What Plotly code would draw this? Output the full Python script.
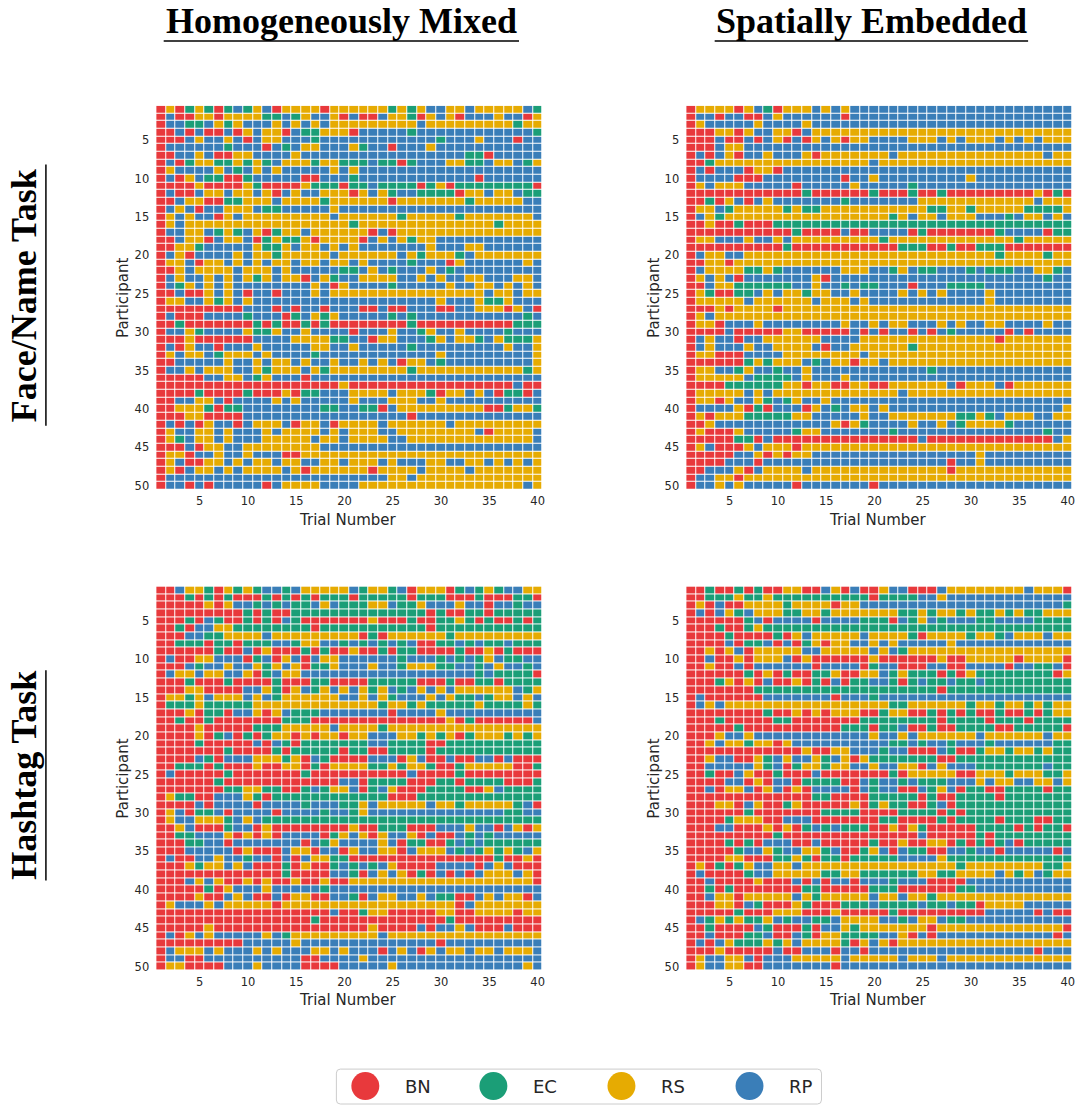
import plotly.graph_objects as go

W, H = 1083, 1109

categories = ["BN", "EC", "RS", "RP"]
cat_colors = ["#E8393C", "#1B9E77", "#E6AB02", "#3A7EB8"]
code_to_cat = {"r": "BN", "g": "EC", "y": "RS", "b": "RP"}
trials = list(range(1, 41))
participants = list(range(1, 51))
x_ticks = [5, 10, 15, 20, 25, 30, 35, 40]
y_ticks = [5, 10, 15, 20, 25, 30, 35, 40, 45, 50]
col_titles = ["Homogeneously Mixed", "Spatially Embedded"]
row_titles = ["Face/Name Task", "Hashtag Task"]

# each row: strategy per trial (r=BN, g=EC, y=RS, b=RP)
face_mixed = [
    "ryrgygrgbg ybryyyyryy yyyygygybb yybyyyyybg",
    "rbrryyryyy yggbgybbyr brrbyygryb yrbbbybbry",
    "rbbggbygyb bbybybybyy yyyyyyybyy yyyyyyygyy",
    "rrbrbrrbry byyrbggyyy rbbbbbgbbb bbbbbbbbbg",
    "rrrbybbybr byybbbgbbb bbbbbbbbbg bbbybbbrbb",
    "rbbbbbbgbb brbgbyybbb ygbbrbbbyb bbbbbbbbbb",
    "rrbbybrryy bbbbybbbbb bbbbbbbbbb bbggrbbbbb",
    "rbrgyyggyg ygbyyygyyg ggbggrgbbb yyggbyybgy",
    "rybbbbybgb ybybbbbbyb ybbbbbbbbb bbbbbbbbbb",
    "rbrybggrrg bbbbbrrbbb gbbbbbbbbb bbbrbbbbbb",
    "rrrryrrrry grrrrygggr ggbggggrgy rggggggggr",
    "rbrrbyybyy byrbybbyyy rybygbbggg gryybyybgg",
    "rrbyyrrggy yybyyyygyy yyyyryyyyy yygyyyyybb",
    "rbybrbbyyy bggbbbbbyb bbbbbbbbbb bbbbbbbbbb",
    "rybybbryby yyyyyyyyby yyyyygyyyy ygyyyyyyyb",
    "rybyyyyyyy yyyyyyyyyy gyyyyyyyyy yyyyygyyyy",
    "rbbyybgygb yrgyybyyyy yyrbryyyyy yyyyyyyyyy",
    "rrbyyrbyyb rgyggyryyy yrbybygyyb bbbbbbbbbb",
    "rryygbbbbb yggybyybyb ybbbbbbbyb bbyybbbbbb",
    "rbyrbbbbyb yygyyyyyby yyyyybygyy ygbyyyyyyy",
    "ryybryybyb ybyybyybyy bybbbbgbbb rybbbbbbyb",
    "rrybyyyyby yybybbbbbg gbybgbbbyb gbbbbbbbbb",
    "rbybbybyby gybyyrbygb byyyybbyby bbyybbbyyb",
    "rbgybybybb bbbbbbybry bbbbgbbbbb ybbyybybyb",
    "rrbrrybybr bbrbbbybyy yyyyyyyyyy yyyybyybyy",
    "ryybbygyby bbbbbbbbbb bbbbbbbbby bbbyggybbb",
    "rrrrrrrrrb bbrbrbbrbb brrbrrbbbr rbbyyyrybr",
    "rbrrrbbbbg bbbrgbygyb bbbbgbgbbb bbbbbbbbgb",
    "rrgrrrrrrr grgrrgrgrr rrrrrrgrrr rrrrrrrggg",
    "rbbygbbbby ggybbybbbb rbbbybbgyb bybbbbgbbb",
    "rrryrrrrrr bbbbyyyygg bbryybbbgy byygbygggy",
    "rbrybbrbbb ybbbbbyybb ybbbbbgbbb bbbbbbybby",
    "rybyybgyyy bybbbbgbbb bbbbbbbbby bbbbbbbbby",
    "rrbbbbbybb ybyybybbyb bybybryybg bbbbbbbbby",
    "rbbybyyybb ygyyybygyy yyyyyygyyy yyyyyyyygy",
    "rrrrrbbyyb gybbbrbbbb bbbbbbbbbb bbbbbbbbbb",
    "rrrrrrrrrr rrrrrrrrry rrrrrrrrrr rrrrrrrbrr",
    "rrrrgrrrrg rrryrggbbb yyyybyyygr yybybrggrb",
    "rrbbyybrbb bbybybbbbb ybbbyyybby bbbbbbbbbb",
    "rryyygrggb bbbbbbbggb bggrbyyyyy yyyyrrgyyg",
    "rrryyrrrrb bbbbbbbbbb bbbbbbrbbb bbbbbbbbbb",
    "rbrbrybbrb yyybryybry yyybyyyyyy byyyyyyyyy",
    "rybbyybybb bybyyyybyb yyybbyyyyy yyybryyyyb",
    "rygbyybybb byyyyybyyb yyyybbyyyy yyyyyyyyyb",
    "rrrbryybby yyyyyyybbb bbbbbbbbbb bbbbbbbbbb",
    "ryyrbbybby bbbrryyyyy yyyyyyyyyy yyyyyyyyyy",
    "rybrryybyb yybyybbyyb yyybybbbyy bbyybybyby",
    "ryrbyybyby yyybyryyyy yyryyyybyy yybyyyyyyy",
    "rbbbbbbbbb bbbbbbbbbb bbbbyybyyy yyyyyyyyyy",
    "rbbrbrbbbb brbyyyybbb byyyyyyyyy yyyyyyyyby",
]

face_spatial = [
    "ryyyyrybgr yyybybybbb bbbbbbbbbb bbbbbbbbbb",
    "rbbrbbrrby bbbbbbrbbb bbbbbbbbbb bbbbbbbbbb",
    "rybbbbbybb bbybbbbbbb bbbbbbbbbb bbbbbbbbbb",
    "rrryyrybby yrbyyyyyyy yyyyyyyyyy yyyyyyyyyy",
    "rrrbrrbrby rbrybyryyb bbbyyybyby yybybybyyy",
    "rrrbyybbbb bbbbbbbbbb bbbbbbbbbb bbbbbbbbbb",
    "rbrbyrbbyb bbyryyyyyy ybyyyyyyyy yyyyyyybyy",
    "rrgyyyyyyy yyyyyyyyyb yyyyyyyyyy yyyyyyyyyy",
    "rbrbbbryyr bbbbbbbbbb bbbbbbbbbb bbbbbbbbbb",
    "rbbbbrrrbb bbbbbbrbby bbbbbbbbby bbbbbbbbbb",
    "rybyyybbbb brbbbbbybb bbbgbbbbbb bbbbbbbbbb",
    "rrrrrrrrrr rrgrrrrrrg rrrgrrgrrr rrrrrryrgr",
    "rrgrybrbyb bbbbbbgbbb bbbbyyyyyy yyyyyybyyy",
    "ryybgyyyyy gyggyyyyyy yyyyyggyyg yyyyyggggy",
    "rbygyyyyyy yyyyyyyyyy ygybyybyyy bbbgbyybyb",
    "rryrrgrrrg gggggggggg gggggggggg gggggggggg",
    "rrrrrrrrrr rgrrrrbrrb bbbrgrrrrr rrgbbbbrgg",
    "ryybbbybby byyyyyyyyy gyyyyyyyyy yyyygyyyyy",
    "rrrrrrrrrr grrrrrrrrr rrgggrrgrr gggrrrrrrr",
    "rbyybbyyyy yyyyyyyyyy yyyyyyyyyy yygyyyygyy",
    "rryyryyyyy yyyyyyyyyy yyyyyyyyyy yyyyyyyyyy",
    "rbyyyyggyg bbbbbbyyyb bgybggbbbg bgggbbyygb",
    "rybybrbbbb bbbyrbbbbb bbbbbbbbbb bbbbbbbgbb",
    "rrbyyggggg gbbybbgbgg bbbrbbbggg gbbbbbbbbb",
    "rygrrggbyb yygyybbybb bbybybybbb bybbbbbbbb",
    "ryyyyybyyy yyybyyybyb bbbbbbbbbb bybbbbbbbb",
    "rrryryyyyr yyyyyyyyyy yyyyyyyyyy yyyyyyyyyy",
    "rybyyyyyyy yyyyyyyyyy yyyyyyyyyy yyyyyyyyyy",
    "ryyrbbbybb bbbbbbybby byybbbybyb byybbbbybb",
    "rrrrbrrrrr yyrrrrrbrb rbbrbrbgbb bbbrbrbbbb",
    "rbybbrbbyy yyyybbbbyy yyyyyyyyyy yyryyyyyyy",
    "rbybbbybby yyybrbbyyy yyygyyyyyy yyyyyyyyyy",
    "ryyrrrbbbb yyyyyyyyby yyyyyyyyyy yyyyyyyyyy",
    "rrrrrrgygy yybgbyyryy byyyyyyyyy yyyyyyyyyy",
    "ryybbgybbg bbybbbbbbb bbbbbgbbbb bbbbbbbbbb",
    "ryyyyybggg gbybbbybbb bbbbbbbbbb bbbbbbbbbb",
    "rrrrgggggg yyryyrryyr ryyyyyybry yybryyyyyy",
    "ryyyyybyby yyyyyyyyyy yybyyyyyyy yyyyyyyyyy",
    "ryyrybbygb gybbybbbbb bbbbbbbbbb bbbbbbbbbb",
    "rbbbbyrgrb bbrybgbyyb ybbbbbbbbb bbbbbbbbby",
    "ryryyygggg gyybbbbbyb byyyyyyygg ygbyyybbyy",
    "rrybbbbbbb bbbbbyrygb bbbybbybgy yyygbbbbbb",
    "ryrrrybbbb bgyybbbbbb bgbbbbbbbb bbbbbbbgbb",
    "rrrrrggrbr rrrrrrrrrr rrrrbrrrrr rrrrrrrrby",
    "rybrrrybyy yryyyyyyyy yyyyyyyyyy yyyyyyyyyy",
    "rrrrrbbyry ryybbbbbbb bbbbbbbbbb ybbbbbbbbb",
    "rrrrbbbrbb bbbbbbbbbb bbbbbbbrbb ybbbbbbbbb",
    "rrbbbyrbyy yybyyyyyyy yyyyyyyryy yyyyyyyyyy",
    "rbbyyryyyy yyyyyyyyyy yyyyyyyyyy yyyyyyyyyy",
    "rbbybybbbb brbbbbbbbr bbbbbbbbbb bbbbbbbbbb",
]

hashtag_mixed = [
    "rrbyygrygy gbbgbyyyyy bgyygbryyy rgbgygbbyy",
    "rrrgrgrgrr rgrgrgrggg rgggggrggg rrrgrrrggr",
    "rrrrryrybb gbgbggbybg ggyybggybb bybbrbbgbb",
    "rrrrrrrrrg rgrrgggggg ggggggggrg rrggrggggg",
    "rrrgrbgrrg rgrbgrrrrr rryrrrgrrg gygrgrrgrg",
    "rrgrbbyygg ggggggrggg ggggggggrg gggggggggg",
    "rrrbbggyyy ybyyyyyyyy yrgryyyyyy gyyyyyyyyy",
    "rrgggrggrg ggbbgyybbg bgbgbgbrrg gbgbggbggg",
    "rrrrrrgrrb ryrrrgrgrr yrrgrggrrr rgrryrgrrr",
    "rbrryybbbr gbrybrbyyb bbbbbgbbbg bgbgybggbb",
    "rrrbgbbybb ygybyrggyb bbybbgyyyg gbbgbybbgb",
    "rbyybyybby rgbyybbbbb bbbbbbbbbb bbbgbggggr",
    "rrrgrrrgrr rrgrrrggrr rrgggggrrr grrggrgggg",
    "rrryyrrrrb bygrybgyby bygybgbyby byyyyyybgy",
    "ryygybyyyb ybgyyyyyyb bybygbbbyb yggbgyybyb",
    "rgggyggggg yyyyyyyyyy yyygyygygg gggyggggyg",
    "rrryrggrbb yrybgggbbb bbbbrbbbby bbbbbbbbbb",
    "rrgrrgrrrr rrrgggrrrr rrrrrrrrrr yrgrrrrrrb",
    "rrrryrrrrr gggyyyyyby yyygyyyyyy yyyyyyyyyy",
    "rrrryrgbrg rgyyryryyr yybbbyygyg yrgyyygygy",
    "rrrrgrrrrr brbgrggggg ggbbggggrr gggggggggg",
    "rrrrrrrgrr rrgrgggggr ggrrggggrg gggggggggg",
    "rrrrbgrbbb yyygyrbgrr rrbbbrybrr brrbbrbrrr",
    "rrgggrgrrr yrryyrgryy yyggygyygr rgyyyyyrrg",
    "rbrrrrrgrr rrrrrgrrrr rrrrrrbrrr rgrrrrrrrr",
    "rrrrrrgrrr rrrrrrrrrb brggggrrrg grggggrrrg",
    "rrrrrrrggy yggrrgbgyy brgbyrrrgg ggrrybgggg",
    "ryggrrbbby grgggggggg ggggrrrggg gggggggggg",
    "rrrrbrbbbb rbbbbgbbbg gybyyyyyby ygyyyyygbr",
    "rybrggbrbb bbrbbbbgbb gybbbbbbbb bbbbbbggbb",
    "rybbyyygby bggggggggg gggggggggg gggggggggg",
    "rrybrrrgbb ryrrrrrrrr yrrgggrrrb bbybbrbyry",
    "rrggbbbyry ryrbbbbrgy byrybbyrbr rbgbgbbbbb",
    "rrrggbbrbb bbbbbrbgyb bbbybrggrr gbgbgggggg",
    "rrrbbbbbry rrrbyyrbbr ybbyyrbyyy bgbgygygby",
    "rbrrbbybbg bbrbrbyygg rrrrrrrrrr rrrrrgrryr",
    "rrrygyybyb rrrgryrrgb gbgbyrrrrb bbbrbybrrr",
    "rrrrrrrrrr rrrgrrrrbb grbybyrgrb rbrbyyybyr",
    "rrrbybyrry ryrryrryrr yyyyyyyyyy yyyyyyyyyr",
    "rrrrrgrybb bybbbbbgbb bbbbbbbbbb bbbbbbbbbb",
    "rrrryrrbyb rrbryyrrbb grbyybbybg grrbybyyrb",
    "rybbbybyyy yyryyyyyyy yyyyyyyyyy yrbyyyyyyy",
    "rrrrrrrrrr rrrrrrrrbr rgyyrrrrry yrryyyyryy",
    "rrrrrrrrrr rrrrrrgrrr rrrrrrrrrr grrrrrrrrr",
    "rrrrryrrrr rrrrrrrrrr rryrrrrbrb bybrrrbrrr",
    "rbrybybbbb bybgyyyyyy yyybyyyyyy yyyyyyyyyy",
    "rrrrrrrrrb bbbbybbbbb bbbbbbbbbr bbbbbbbbbb",
    "rbyyybybbb ybybbbyyby bbbrbybryb yybyybyyyb",
    "rbbrrbbbbb bbbbbrrbbb bybbbbbbbb bbbbbbbbbb",
    "ryyrrrrbbb ybbbbrrrrb bbbbybbbbb bbbbbbbbyb",
]

hashtag_spatial = [
    "rrgrrgrgrr yyrrbyrbrr ybbrrrbyyy yyyyybyyyr",
    "rrgggyggyg gggggggggr ggggbbybbb bbbbbbbbbb",
    "ryrbrryyyy gyyyyryybb bbbbbbbbbb bbbbbbbbbg",
    "rbrbygbyyy ggyygyyyyy yyggygyygy ggygyggyyy",
    "rrrrrrgbrb bbbrbbbbgg grbgybgbbb ggbbbbgggg",
    "rrrgrrgygg gggggggggg gggggggggg gggggggggg",
    "rrrrgrrrrg rybyyyyyby yyygryyyyg yygbyyybyy",
    "rrrrbrggbr brgyryybby bybbbbbybb bbbbbbbbbb",
    "rryrybryyy yybbyyyyyb ybgyyyyyyy yyyyyyyyyy",
    "rrbrryryyy bryrrrrrry rrrrrryrry yyyyryyyyr",
    "rryrrbrbbb bbbrbbbbrg bbrrrbbrrb bbbrbbggbr",
    "rrrrrrgryr grrggyrryy bgygggrgry ggggggggry",
    "rrrgyryrbr ryrgrbrggb bgrgbggbgg bggggggggg",
    "rrrrrrrggg gggggggggg ggggggrggg gggggggggg",
    "rbrrrrrrbb bbbbbrbbbg bbbbbbbbbb bbbbbbbbbb",
    "rbybyyyyyy yyyyyyyyyy yggyyyyyyg yygyygygyy",
    "rrrrrrrrgr ryryryyyrr gyyrrgrgrg rrgrrgrgyy",
    "rrrgrrrrrg grrrrrrrgg ggggggrggg grgggrgggg",
    "rrrrrgrrrr rrrrrrgggr ggbrrgrrgg ggrrgggggr",
    "rrrybbybbb bbbbbbbbby bbybyyyyyy byyyyyybyy",
    "rrybyygyyr ybbbbbbbbb bggbgbbgbb bgbbbbbbgg",
    "rrrrrrrrrr rryrryybbb gbbrrrbgrr gyygyygygg",
    "rrybbrrygb ybbygbyryg ggggggrrgg gggggggggg",
    "rrbbbbbygb rgyygyybby bbyyrbybbb gggggggbgg",
    "rrgrrbyrrg rrrbrrrrrr rgryyyyyrr yyygyyyggy",
    "rrrrbbryrb brggggrrbg bbgbgggbbb ybyybbyyby",
    "rrbryybryb ryrbbbbrbg bbrrbgybrg grrggggrgg",
    "rrrrrrrrrr rrrggrrrrg ggggrgrrgg ggrggggggg",
    "rrryyrbyrr gyrrrrryrg yggrrgbrgg gggggggggg",
    "rrrrrrgrrr rrrrggggrr rrggggrgrg gggggggggg",
    "rrrrgyyyrr bbbrrrrrrr ggrrrrgrgg ggrgggrrgg",
    "rrrbbrrryr yrgbgbgggr ryrygrrrrr ggggrgrggr",
    "rrrrrrrrrg rrrrrrrrrr rrrrbrrrrr grgggggggg",
    "rrrrgrgrbb brrbrrrrrg rryrryyrgr grgbrggggg",
    "rrrrrgbbyg bbyygbrrgy brbggrrbbg bbrbbbbbrb",
    "rrrryyrrrg gygrggrggg ggbbbbyggg gggggggggg",
    "ryrgrgybby ybyyyyyyyy yyyyyyyygy yyyyyyyggy",
    "rbrrrrgbby yyyyggyygg ggggyyggyy yybygybgyy",
    "rrbrrrryrr rbrbrbbrbb bgbbbrrrrb bbbbbbbbbb",
    "rrgrgrrrrr rrggrrrrrg ggrrrrrrgg bbbbbbbbbb",
    "rrbyyryyyy ybygyyyyyb yybyygyyyy yyyyyyyyyy",
    "rrryyrbgrr rygrrrgggb ggggbggbgg ryyyybbbbb",
    "rrrrrgrrry yyrrryrrrr rgrrrrrrrr rbbbbbrbrr",
    "rbgygyggyb gbbggbyyyy bbgbyybggb bbbbbbbbbb",
    "rrgrrrrbgr rrgrbbygyy yyyyyryyyy yyyyyyyyyr",
    "rrbrrrggbr rbgryygggg bbyrbrbbbb bbbbbbbbrb",
    "rbrbygggyg ybyyyygryb yryyyyyyyy yyyyyyyyyy",
    "rrryrrrrrb rrbbbrbbrb bbbbbbbbbb bbbbbbrbbb",
    "rybbyybrbb byyyyybyyy yybyyybyyy yyyyyyyyyy",
    "rybbyyrrbb bbbbbrbbbb bbbbbbbbbb bbbbbbbbbb",
]


def to_z(rows):
    z = []
    for row in rows:
        s = row.replace(" ", "")
        z.append([categories.index(code_to_cat[c]) for c in s[:40]])
    return z


panels = [face_mixed, face_spatial, hashtag_mixed, hashtag_spatial]

# discrete colour scale
cs = []
n = len(categories)
for i, c in enumerate(cat_colors):
    cs.append([i / n, c])
    cs.append([(i + 1) / n, c])

def px(x):
    return x / W

def py(y):
    return 1 - y / H

x_dom = [[px(156.5), px(543.5)], [px(687.5), px(1074.5)]]
y_dom = [[py(491), py(106)], [py(973), py(588)]]

fig = go.Figure()
txt = "#262626"
for k, rows in enumerate(panels):
    r, c = divmod(k, 2)
    idx = k + 1
    xa = "x" if idx == 1 else f"x{idx}"
    ya = "y" if idx == 1 else f"y{idx}"
    z = to_z(rows)
    fig.add_trace(go.Heatmap(
        z=z, x=trials, y=participants[:len(z)],
        colorscale=cs, zmin=-0.5, zmax=n - 0.5,
        showscale=False, xgap=1, ygap=1,
        xaxis=xa, yaxis=ya, hoverinfo="skip",
    ))
    xkey = "xaxis" if idx == 1 else f"xaxis{idx}"
    ykey = "yaxis" if idx == 1 else f"yaxis{idx}"
    fig.layout[xkey] = dict(
        domain=x_dom[c], anchor=ya, range=[0.5, 40.5],
        tickvals=x_ticks, ticks="", showgrid=False, zeroline=False,
        showline=False, ticklabelstandoff=3,
        tickfont=dict(family="DejaVu Sans", size=11.5, color=txt),
    )
    fig.layout[ykey] = dict(
        domain=y_dom[r], anchor=xa, range=[50.5, 0.5],
        tickvals=y_ticks, ticks="", showgrid=False, zeroline=False,
        showline=False, ticklabelstandoff=6,
        tickfont=dict(family="DejaVu Sans", size=11.5, color=txt),
    )

ann = []
shapes = []
# column titles
for cx, t, (u0, u1) in [(342, col_titles[0], (164, 520)), (873, col_titles[1], (716, 1030))]:
    ann.append(dict(x=px(cx), y=py(21), xref="paper", yref="paper", text=f"<b>{t}</b>",
                    showarrow=False, xanchor="center", yanchor="middle",
                    font=dict(family="Liberation Serif", size=36, color="black")))
    shapes.append(dict(type="line", xref="paper", yref="paper", x0=px(u0), x1=px(u1),
                       y0=py(41), y1=py(41), line=dict(color="black", width=1.5)))
# row titles
for cy, t, (v0, v1) in [(296, row_titles[0], (165, 427)), (777, row_titles[1], (672, 883))]:
    ann.append(dict(x=px(24), y=py(cy), xref="paper", yref="paper", text=f"<b>{t}</b>",
                    showarrow=False, xanchor="center", yanchor="middle", textangle=-90,
                    font=dict(family="Liberation Serif", size=36, color="black")))
    shapes.append(dict(type="line", xref="paper", yref="paper", x0=px(46), x1=px(46),
                       y0=py(v0), y1=py(v1), line=dict(color="black", width=1.5)))
# axis titles
for cx in (349, 880):
    for cy in (521, 1003):
        ann.append(dict(x=px(cx), y=py(cy), xref="paper", yref="paper", text="Trial Number",
                        showarrow=False, xanchor="center", yanchor="middle",
                        font=dict(family="DejaVu Sans", size=15, color=txt)))
for cx in (123, 655):
    for cy in (299, 781):
        ann.append(dict(x=px(cx), y=py(cy), xref="paper", yref="paper", text="Participant",
                        showarrow=False, xanchor="center", yanchor="middle", textangle=-90,
                        font=dict(family="DejaVu Sans", size=15, color=txt)))

# legend box
x0, x1, y0, y1, rr = 337, 823, 1072, 1107, 4
path = (f"M {px(x0+rr)},{py(y0)} L {px(x1-rr)},{py(y0)} Q {px(x1)},{py(y0)} {px(x1)},{py(y0+rr)} "
        f"L {px(x1)},{py(y1-rr)} Q {px(x1)},{py(y1)} {px(x1-rr)},{py(y1)} "
        f"L {px(x0+rr)},{py(y1)} Q {px(x0)},{py(y1)} {px(x0)},{py(y1-rr)} "
        f"L {px(x0)},{py(y0+rr)} Q {px(x0)},{py(y0)} {px(x0+rr)},{py(y0)} Z")
shapes.append(dict(type="path", path=path, xref="paper", yref="paper",
                   line=dict(color="#cccccc", width=1), fillcolor="white", layer="below"))
for i, (cat, col) in enumerate(zip(categories, cat_colors)):
    cx = 366 + i * 128.3
    rad = 14
    shapes.append(dict(type="circle", xref="paper", yref="paper",
                       x0=px(cx - rad), x1=px(cx + rad), y0=py(1089 + rad), y1=py(1089 - rad),
                       fillcolor=col, line=dict(color=col, width=0)))
    ann.append(dict(x=px(cx + 38), y=py(1089), xref="paper", yref="paper", text=cat,
                    showarrow=False, xanchor="left", yanchor="middle",
                    font=dict(family="DejaVu Sans", size=18, color=txt)))

fig.update_layout(
    width=W, height=H, autosize=False,
    margin=dict(l=0, r=0, t=0, b=0),
    paper_bgcolor="white", plot_bgcolor="white",
    annotations=ann, shapes=shapes, showlegend=False,
)

fig.write_html("out.html", config={"displayModeBar": False},
               post_script="document.body.style.margin='0';document.body.style.padding='0';")
